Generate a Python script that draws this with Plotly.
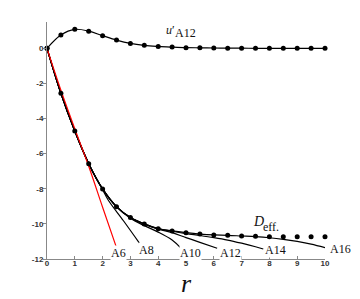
import plotly.graph_objects as go

# exact D_eff (dots)
r_dots = [0, 0.5, 1, 1.5, 2, 2.5, 3, 3.5, 4, 4.5, 5, 5.5, 6, 6.5, 7, 7.5, 8, 8.5, 9, 9.5, 10]
d_dots = [0, -2.56, -4.71, -6.57, -8.01, -9.02, -9.64, -10.0, -10.27, -10.40, -10.50,
          -10.58, -10.63, -10.65, -10.69, -10.71, -10.73, -10.73, -10.73, -10.73, -10.73]

# u'_A12 curve
u_vals = [0, 0.76, 1.08, 0.98, 0.72, 0.47, 0.28, 0.17, 0.11, 0.07, 0.04,
          0.03, 0.02, 0.01, 0.01, 0.0, 0.0, 0.0, 0.0, 0.0, 0.0]

# approximants
a6_r = [0, 0.5, 1, 1.5, 2, 2.5]
a6_v = [0, -2.38, -4.58, -6.72, -9.05, -11.35]

a8_r = [0, 0.5, 1, 1.5, 2, 2.2, 2.75, 3.35]
a8_v = [0, -2.56, -4.71, -6.57, -8.05, -8.64, -9.82, -11.15]

a10_r = [0, 0.5, 1, 1.5, 2, 2.5, 3, 3.5, 4, 4.5, 4.8]
a10_v = [0, -2.56, -4.71, -6.57, -8.01, -9.03, -9.68, -10.1, -10.47, -10.92, -11.35]

a12_r = [0, 0.5, 1, 1.5, 2, 2.5, 3, 3.5, 4, 4.5, 5, 5.5, 6.12]
a12_v = [0, -2.56, -4.71, -6.57, -8.01, -9.02, -9.64, -10.02, -10.3, -10.5, -10.78, -11.05, -11.39]

a14_r = [0, 0.5, 1, 1.5, 2, 2.5, 3, 3.5, 4, 4.5, 5, 5.5, 6, 6.5, 7, 7.5, 7.78]
a14_v = [0, -2.56, -4.71, -6.57, -8.01, -9.02, -9.64, -10.0, -10.27, -10.42, -10.55,
         -10.66, -10.78, -10.92, -11.1, -11.3, -11.43]

a16_r = [0, 0.5, 1, 1.5, 2, 2.5, 3, 3.5, 4, 4.5, 5, 5.5, 6, 6.5, 7, 7.5, 8, 8.5, 9, 9.5, 10]
a16_v = [0, -2.56, -4.71, -6.57, -8.01, -9.02, -9.64, -10.0, -10.27, -10.40, -10.50,
         -10.58, -10.63, -10.65, -10.69, -10.73, -10.79, -10.88, -11.0, -11.15, -11.35]

x_ticks = [0, 1, 2, 3, 4, 5, 6, 7, 8, 9, 10]
y_ticks = [0, -2, -4, -6, -8, -10, -12]
y_ticktext = ["0", "-2", "-4", "-6", "-8", "-10", "-12"]

labels = [("A6", 2.57, -11.66), ("A8", 3.59, -11.5), ("A10", 5.15, -11.66),
          ("A12", 6.6, -11.66), ("A14", 8.21, -11.5), ("A16", 10.55, -11.44)]

X_MAX = 10.0
Y_MIN, Y_MAX = -12.0, 1.5

fig = go.Figure()

for rr, vv in [(a8_r, a8_v), (a10_r, a10_v), (a12_r, a12_v), (a14_r, a14_v), (a16_r, a16_v)]:
    fig.add_trace(go.Scatter(x=rr, y=vv, mode="lines",
                             line=dict(color="black", width=1.2, shape="spline"),
                             hoverinfo="skip", showlegend=False))

fig.add_trace(go.Scatter(x=a6_r, y=a6_v, mode="lines",
                         line=dict(color="red", width=1.2, shape="spline"),
                         showlegend=False))

fig.add_trace(go.Scatter(x=r_dots, y=d_dots, mode="markers",
                         marker=dict(color="black", size=5), showlegend=False,
                         cliponaxis=False))

fig.add_trace(go.Scatter(x=r_dots, y=u_vals, mode="lines+markers",
                         line=dict(color="black", width=1.2, shape="spline"),
                         marker=dict(color="black", size=5), showlegend=False,
                         cliponaxis=False))

serif = "Liberation Serif, Times New Roman, serif"
for txt, x, y in labels:
    # use paper coords so labels just outside the x range stay visible
    fig.add_annotation(x=x / X_MAX, y=(y - Y_MIN) / (Y_MAX - Y_MIN), xref="paper", yref="paper",
                       text=txt, showarrow=False, xanchor="center", yanchor="middle",
                       font=dict(family=serif, size=12, color="#111"),
                       bgcolor="white", borderpad=0)

# D_eff label
fig.add_annotation(x=7.61, y=-9.85, text="<i>D</i>", showarrow=False, xanchor="center", yanchor="middle",
                   font=dict(family=serif, size=14, color="#111"))
fig.add_annotation(x=8.07, y=-10.15, text="eff.", showarrow=False, xanchor="center", yanchor="middle",
                   font=dict(family=serif, size=12, color="#111"))

# u'_A12 label
fig.add_annotation(x=4.45, y=1.05, text="<i>u</i>\u2032", showarrow=False, xanchor="center", yanchor="middle",
                   font=dict(family=serif, size=12, color="#111"))
fig.add_annotation(x=4.98, y=0.86, text="A12", showarrow=False, xanchor="center", yanchor="middle",
                   font=dict(family=serif, size=12, color="#111"))

# axis title r
fig.add_annotation(x=0.5, y=-0.105, xref="paper", yref="paper", text="<i>r</i>", showarrow=False,
                   xanchor="center", yanchor="middle",
                   font=dict(family=serif, size=26, color="#111"))

tickfont = dict(family="Liberation Sans, Arial, sans-serif", size=8, color="#333", weight="bold")
fig.update_layout(
    width=360, height=299,
    margin=dict(l=47, r=35, t=22, b=40),
    plot_bgcolor="white", paper_bgcolor="white",
    xaxis=dict(range=[0, X_MAX], tickvals=x_ticks, ticks="inside", ticklen=3, tickcolor="#888",
               showline=True, linecolor="#888", linewidth=1, showgrid=False, zeroline=False,
               tickfont=tickfont, ticklabelstandoff=-4),
    yaxis=dict(range=[Y_MIN, Y_MAX], tickvals=y_ticks, ticktext=y_ticktext, ticks="outside", ticklen=3,
               tickcolor="#888", showline=True, linecolor="#888", linewidth=1, showgrid=False,
               zeroline=False, tickfont=tickfont, ticklabelstandoff=-2),
)

fig.write_html("out.html", config={"displayModeBar": False},
               post_script="document.body.style.margin='0';document.body.style.padding='0';")
